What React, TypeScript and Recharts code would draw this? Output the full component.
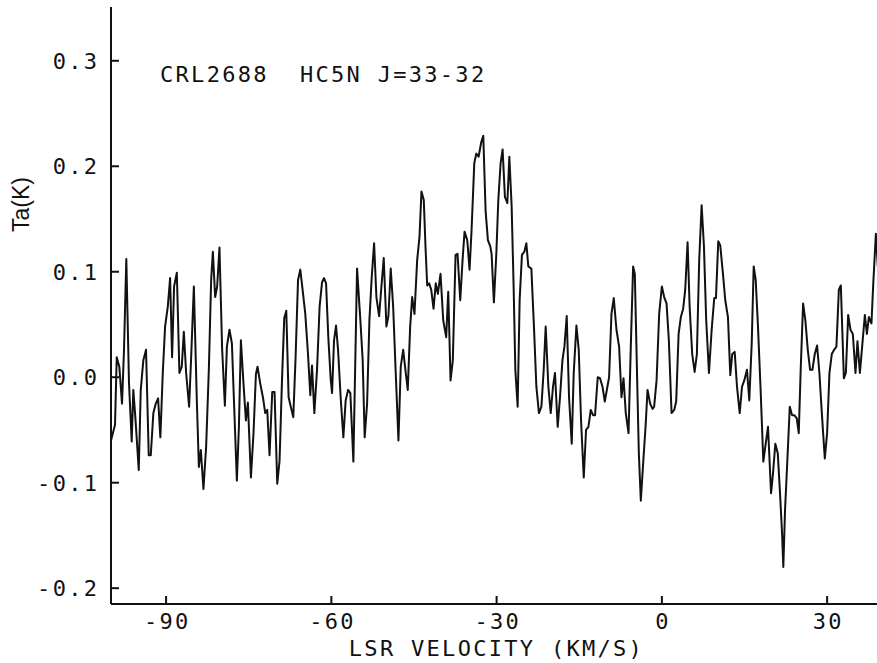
import React from 'react';
import { LineChart, Line, XAxis, YAxis } from 'recharts';

// LSR velocity (km/s) channels
const velocity: number[] = [
  -100.0, -99.27, -98.96, -98.49, -98.0, -97.64, -97.22, -96.73, -96.24, -95.95,
  -95.58, -94.96, -94.6, -94.13, -93.64, -93.15, -92.78, -92.31, -91.87, -91.45,
  -91.04, -90.6, -90.18, -89.69, -89.27, -88.91, -88.55, -88.05, -87.58, -87.15,
  -86.78, -86.36, -85.82, -85.45, -84.96, -84.42, -84.05, -83.69, -83.22, -82.73,
  -82.24, -81.82, -81.51, -81.09, -80.73, -80.31, -79.82, -79.33, -78.96, -78.49,
  -78.05, -77.64, -77.15, -76.78, -76.42, -75.95, -75.51, -75.15, -74.6, -74.13,
  -73.69, -73.4, -72.91, -72.42, -72.0, -71.64, -71.22, -70.73, -70.31, -69.82,
  -69.4, -68.96, -68.55, -68.18, -67.76, -67.27, -66.91, -66.49, -66.05, -65.64,
  -65.22, -64.73, -64.24, -63.82, -63.51, -63.09, -62.6, -62.13, -61.69, -61.33,
  -60.96, -60.55, -60.13, -59.87, -59.51, -59.15, -58.78, -58.31, -57.82, -57.4,
  -56.96, -56.55, -56.0, -55.33, -54.73, -54.31, -53.95, -53.51, -53.09, -52.67,
  -52.24, -51.82, -51.33, -50.91, -50.49, -50.0, -49.64, -49.22, -48.78, -48.31,
  -47.82, -47.4, -46.96, -46.49, -46.13, -45.69, -45.33, -44.91, -44.42, -44.0,
  -43.64, -43.22, -42.91, -42.6, -42.24, -41.87, -41.45, -41.04, -40.67, -40.18,
  -39.69, -39.15, -38.78, -38.36, -37.95, -37.45, -37.09, -36.6, -36.18, -35.82,
  -35.33, -34.91, -34.55, -34.05, -33.69, -33.27, -32.78, -32.42, -32.0, -31.58,
  -31.15, -30.91, -30.49, -30.05, -29.69, -29.27, -28.91, -28.49, -28.05, -27.69,
  -27.27, -26.91, -26.6, -26.18, -25.82, -25.4, -24.96, -24.6, -24.24, -23.69,
  -23.22, -22.78, -22.31, -21.87, -21.45, -21.09, -20.6, -20.18, -19.76, -19.4,
  -18.91, -18.49, -18.05, -17.69, -17.27, -16.85, -16.36, -16.0, -15.51, -15.09,
  -14.67, -14.18, -13.76, -13.33, -12.91, -12.49, -12.13, -11.64, -11.22, -10.78,
  -10.36, -9.58, -9.15, -8.73, -8.24, -7.76, -7.33, -6.96, -6.55, -6.05,
  -5.64, -5.22, -4.91, -4.55, -4.18, -3.82, -3.4, -2.96, -2.6, -2.13,
  -1.69, -1.4, -0.96, -0.49, 0.0, 0.42, 0.85, 1.27, 1.76, 2.24,
  2.6, 3.04, 3.45, 3.87, 4.24, 4.67, 5.04, 5.51, 5.95, 6.36,
  6.78, 7.22, 7.64, 8.05, 8.55, 9.04, 9.51, 9.82, 10.24, 10.6,
  11.09, 11.51, 12.0, 12.42, 12.78, 13.22, 13.64, 14.13, 14.55, 14.96,
  15.45, 15.87, 16.31, 16.67, 17.04, 17.45, 17.95, 18.42, 18.85, 19.27,
  19.82, 20.18, 20.6, 21.04, 21.45, 21.82, 22.05, 22.36, 22.78, 23.22,
  23.64, 24.05, 24.49, 24.85, 25.22, 25.64, 26.05, 26.49, 26.91, 27.33,
  27.76, 28.18, 28.6, 29.04, 29.58, 30.0, 30.42, 30.85, 31.27, 31.69,
  32.13, 32.49, 33.04, 33.4, 33.82, 34.24, 34.67, 35.15, 35.51, 35.95,
  36.31, 36.85, 37.22, 37.58, 38.05, 38.36, 38.85, 39.2,
];

// Antenna temperature Ta (K)
const antennaTemp: number[] = [
  -0.060, -0.045, 0.019, 0.010, -0.025, 0.026, 0.112, -0.006, -0.061, -0.012,
  -0.038, -0.088, -0.012, 0.016, 0.026, -0.074, -0.074, -0.034, -0.025, -0.020,
  -0.057, 0.004, 0.048, 0.067, 0.094, 0.019, 0.086, 0.099, 0.004, 0.010,
  0.043, 0.004, -0.028, 0.019, 0.086, -0.022, -0.085, -0.069, -0.106, -0.066,
  0.007, 0.092, 0.119, 0.076, 0.086, 0.123, 0.026, -0.027, 0.029, 0.045,
  0.032, -0.028, -0.098, -0.047, 0.035, -0.006, -0.041, -0.024, -0.095, -0.053,
  0.003, 0.010, -0.006, -0.019, -0.034, -0.031, -0.074, -0.014, -0.014, -0.101,
  -0.079, -0.003, 0.056, 0.063, -0.019, -0.030, -0.038, 0.019, 0.092, 0.102,
  0.083, 0.060, 0.022, -0.017, 0.011, -0.034, 0.007, 0.067, 0.090, 0.094,
  0.089, 0.038, -0.001, -0.015, 0.035, 0.049, 0.026, -0.019, -0.057, -0.022,
  -0.012, -0.015, -0.080, 0.103, 0.054, 0.016, -0.057, -0.025, 0.054, 0.095,
  0.127, 0.076, 0.058, 0.086, 0.113, 0.048, 0.058, 0.103, 0.067, 0.004,
  -0.060, 0.010, 0.026, 0.004, -0.012, 0.048, 0.076, 0.060, 0.111, 0.133,
  0.176, 0.168, 0.124, 0.087, 0.089, 0.083, 0.065, 0.089, 0.079, 0.098,
  0.054, 0.038, 0.081, -0.003, 0.016, 0.116, 0.117, 0.073, 0.111, 0.138,
  0.130, 0.102, 0.139, 0.203, 0.212, 0.209, 0.223, 0.229, 0.158, 0.130,
  0.124, 0.117, 0.071, 0.117, 0.168, 0.203, 0.216, 0.171, 0.165, 0.209,
  0.162, 0.086, 0.007, -0.028, 0.073, 0.116, 0.119, 0.127, 0.105, 0.103,
  0.048, -0.009, -0.034, -0.028, 0.007, 0.048, -0.009, -0.034, -0.009, 0.004,
  -0.047, -0.019, 0.016, 0.029, 0.058, -0.019, -0.063, 0.004, 0.049, 0.026,
  -0.041, -0.095, -0.050, -0.047, -0.031, -0.036, -0.036, 0.000, -0.001, -0.009,
  -0.023, 0.000, 0.060, 0.075, 0.045, 0.029, -0.019, -0.001, -0.034, -0.053,
  0.029, 0.105, 0.098, 0.013, -0.072, -0.117, -0.082, -0.047, -0.012, -0.025,
  -0.030, -0.028, -0.003, 0.060, 0.086, 0.076, 0.070, 0.035, -0.034, -0.031,
  -0.023, 0.041, 0.057, 0.065, 0.083, 0.128, 0.067, 0.022, 0.005, 0.022,
  0.111, 0.163, 0.124, 0.054, 0.004, 0.045, 0.075, 0.075, 0.129, 0.125,
  0.098, 0.073, 0.057, 0.002, 0.022, 0.024, -0.009, -0.034, -0.009, -0.003,
  0.007, -0.022, 0.032, 0.105, 0.092, 0.048, -0.015, -0.080, -0.063, -0.047,
  -0.110, -0.091, -0.063, -0.072, -0.110, -0.148, -0.180, -0.126, -0.079, -0.028,
  -0.036, -0.036, -0.039, -0.053, 0.010, 0.070, 0.054, 0.026, 0.007, 0.007,
  0.022, 0.030, 0.004, -0.034, -0.077, -0.053, 0.004, 0.022, 0.026, 0.029,
  0.083, 0.087, -0.001, 0.004, 0.059, 0.045, 0.041, 0.004, 0.034, 0.004,
  0.026, 0.059, 0.041, 0.057, 0.051, 0.087, 0.136, 0.105,
];

const xTicks: number[] = [-90, -60, -30, 0, 30];
const yTicks: number[] = [0.3, 0.2, 0.1, 0.0, -0.1, -0.2];
const titleText = 'CRL2688  HC5N J=33-32';
const xAxisTitle = 'LSR VELOCITY (KM/S)';
const yAxisTitle = 'Ta(K)';

const data = velocity.map((v, i) => ({ v, ta: antennaTemp[i] }));

const INK = '#111';
const TICK_LEN = 8;
const LEFT_MARGIN = 14;
const BOTTOM_MARGIN = 9;

const plotFont: React.CSSProperties = {
  fontFamily: '"DejaVu Sans Mono", monospace',
  fontSize: 22,
  letterSpacing: '2.3px',
  fill: INK,
  whiteSpace: 'pre',
};

// left axis: label + inward tick mark (tick label x = axis - LEFT_MARGIN)
const LeftTick = (props: any) => {
  const { x, y, payload } = props;
  const axisX = x + LEFT_MARGIN;
  return (
    <g>
      <line x1={axisX} x2={axisX + TICK_LEN} y1={y} y2={y} stroke={INK} strokeWidth={2} />
      <text x={x} y={y} dx={2.3} dy="0.36em" textAnchor="end" style={plotFont}>
        {Number(payload.value).toFixed(1)}
      </text>
    </g>
  );
};

// bottom axis: label + inward tick mark (tick label y = axis + BOTTOM_MARGIN)
const BottomTick = (props: any) => {
  const { x, y, payload } = props;
  const axisY = y - BOTTOM_MARGIN;
  return (
    <g>
      <line x1={x} x2={x} y1={axisY} y2={axisY - TICK_LEN} stroke={INK} strokeWidth={2} />
      <text x={x} y={y} dx={1.2} dy="0.73em" textAnchor="middle" style={plotFont}>
        {String(payload.value)}
      </text>
    </g>
  );
};

const TopTick = (props: any) => {
  const { x, y } = props;
  return <line x1={x} x2={x} y1={y} y2={y + TICK_LEN} stroke={INK} strokeWidth={2} />;
};

const RightTick = (props: any) => {
  const { x, y } = props;
  return <line x1={x} x2={x - TICK_LEN} y1={y} y2={y} stroke={INK} strokeWidth={2} />;
};

const XTitle = (props: any) => {
  const vb = props.viewBox || {};
  return (
    <text x={vb.x + vb.width / 2 + 1} y={656} textAnchor="middle" style={plotFont}>
      {xAxisTitle}
    </text>
  );
};

const YTitle = () => (
  <text
    transform="translate(28.5,232) rotate(-90)"
    textAnchor="start"
    style={{ fontFamily: '"Liberation Sans", Arial, sans-serif', fontSize: 23, fill: INK }}
  >
    {yAxisTitle}
  </text>
);

const ChartTitle = () => (
  <text x={160} y={82} xmlSpace="preserve" style={plotFont}>
    {titleText}
  </text>
);

export default function App() {
  return (
    <div
      style={{
        position: 'absolute',
        left: 0,
        top: 0,
        width: 877,
        height: 663,
        overflow: 'hidden',
        background: '#fff',
      }}
    >
      <LineChart
        width={880}
        height={663}
        data={data}
        margin={{ top: 7, right: 0, bottom: 0, left: 0 }}
      >
        <XAxis
          xAxisId="bottom"
          dataKey="v"
          type="number"
          domain={[-100, 39.6]}
          ticks={xTicks}
          allowDataOverflow
          orientation="bottom"
          height={59}
          axisLine={{ stroke: INK, strokeWidth: 2 }}
          tickLine={false}
          tickSize={0}
          tickMargin={BOTTOM_MARGIN}
          tick={<BottomTick />}
          interval={0}
          label={<XTitle />}
        />
        <XAxis
          xAxisId="top"
          dataKey="v"
          type="number"
          domain={[-100, 39.6]}
          ticks={xTicks}
          allowDataOverflow
          orientation="top"
          height={0}
          axisLine={{ stroke: INK, strokeWidth: 1.6 }}
          tickLine={false}
          tickSize={0}
          tickMargin={0}
          tick={<TopTick />}
          interval={0}
        />
        <YAxis
          yAxisId="left"
          type="number"
          domain={[-0.215, 0.351]}
          ticks={yTicks}
          allowDataOverflow
          orientation="left"
          width={111}
          axisLine={{ stroke: INK, strokeWidth: 2 }}
          tickLine={false}
          tickSize={0}
          tickMargin={LEFT_MARGIN}
          tick={<LeftTick />}
          interval={0}
          label={<YTitle />}
        />
        <YAxis
          yAxisId="right"
          type="number"
          domain={[-0.215, 0.351]}
          ticks={yTicks}
          allowDataOverflow
          orientation="right"
          width={0}
          axisLine={{ stroke: INK, strokeWidth: 2 }}
          tickLine={false}
          tickSize={0}
          tickMargin={0}
          tick={<RightTick />}
          interval={0}
        />
        <Line
          xAxisId="bottom"
          yAxisId="left"
          type="linear"
          dataKey="ta"
          stroke={INK}
          strokeWidth={2}
          strokeLinejoin="round"
          dot={false}
          activeDot={false}
          isAnimationActive={false}
        />
        <ChartTitle />
      </LineChart>
    </div>
  );
}
